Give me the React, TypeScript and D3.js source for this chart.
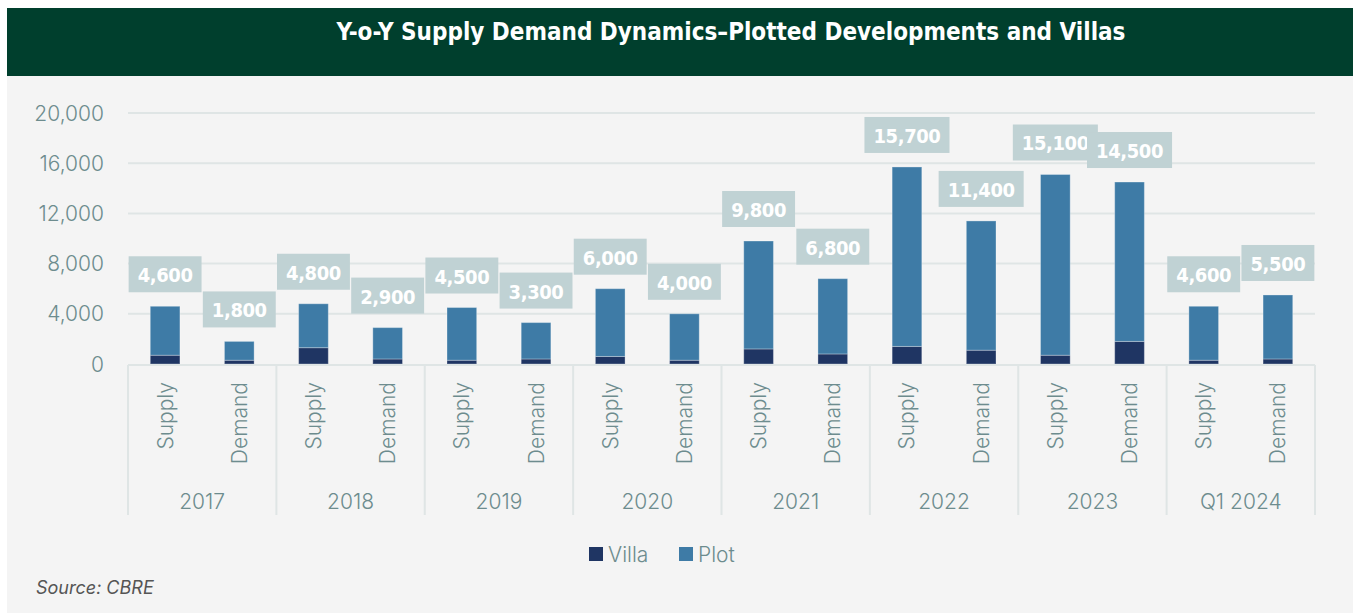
import React, { useEffect, useRef } from 'react';
import * as d3 from 'd3';

const years = ["2017", "2018", "2019", "2020", "2021", "2022", "2023", "Q1 2024"];
const kinds = ["Supply", "Demand"];

// villa / plot split per year
const supplyVilla = [700, 1300, 300, 600, 1200, 1400, 700, 300];
const supplyPlot = [3900, 3500, 4200, 5400, 8600, 14300, 14400, 4300];
const demandVilla = [300, 400, 400, 300, 800, 1100, 1800, 400];
const demandPlot = [1500, 2500, 2900, 3700, 6000, 10300, 12700, 5100];

const yTicks = [0, 4000, 8000, 12000, 16000, 20000];
const seriesKeys = ["villa", "plot"];
const seriesNames = ["Villa", "Plot"];

const W = 1353;
const H = 613;
const colors = { villa: "#1f3563", plot: "#3e7ba6" };
const axisText = "#6d8c8e";
const gridColor = "#dfe5e5";
const condensed = "'DejaVu Sans Condensed', 'Liberation Sans Narrow', 'DejaVu Sans', sans-serif";
const sans = "Inter, 'Open Sans', sans-serif";

const App = () => {
  const svgRef = useRef<SVGSVGElement | null>(null);

  useEffect(() => {
    const svg = d3.select(svgRef.current);
    svg.selectAll("*").remove();

    const rows = years.flatMap((y, i) => [
      { year: y, kind: "Supply", villa: supplyVilla[i], plot: supplyPlot[i] },
      { year: y, kind: "Demand", villa: demandVilla[i], plot: demandPlot[i] },
    ]);

    const left = 128, right = 1315, base = 364, top = 113;

    // background + header
    svg.append("rect").attr("x", 7).attr("y", 76).attr("width", W - 7).attr("height", H - 76).attr("fill", "#f4f4f4");
    svg.append("rect").attr("x", 7).attr("y", 8).attr("width", W - 7).attr("height", 68).attr("fill", "#003f2d");
    svg.append("text")
      .attr("x", 731).attr("y", 32)
      .attr("text-anchor", "middle").attr("dominant-baseline", "central")
      .attr("font-family", condensed).attr("font-weight", "bold").attr("font-size", 24)
      .attr("fill", "#fff")
      .text("Y-o-Y Supply Demand Dynamics\u2013Plotted Developments and Villas");

    const x0 = d3.scaleBand().domain(years).range([left, right]).padding(0);
    const x1 = d3.scaleBand().domain(kinds).range([0, x0.bandwidth()]).paddingInner(0.6).paddingOuter(0.3);
    const y = d3.scaleLinear().domain([0, 20000]).range([base, top]);

    const g = svg.append("g");

    // gridlines
    g.selectAll(".grid")
      .data(yTicks.filter(t => t > 0))
      .enter()
      .append("line")
      .attr("x1", left).attr("x2", right)
      .attr("y1", d => y(d)).attr("y2", d => y(d))
      .attr("stroke", gridColor).attr("stroke-width", 2);

    // y labels
    g.selectAll(".ytick")
      .data(yTicks)
      .enter()
      .append("text")
      .attr("x", 104).attr("y", d => y(d))
      .attr("text-anchor", "end").attr("dominant-baseline", "central")
      .attr("font-family", sans).attr("font-weight", 300).attr("font-size", 21).attr("fill", axisText)
      .text(d => d3.format(",")(d));

    // stacked bars
    const stacked = d3.stack<any>().keys(seriesKeys)(rows);
    const barX = (d: any) => (x0(d.year) as number) + (x1(d.kind) as number);
    stacked.forEach((layer) => {
      g.selectAll(".bar-" + layer.key)
        .data(layer)
        .enter()
        .append("rect")
        .attr("x", d => barX(d.data))
        .attr("y", d => y(d[1]))
        .attr("width", x1.bandwidth())
        .attr("height", d => y(d[0]) - y(d[1]))
        .attr("fill", colors[layer.key as "villa" | "plot"])
        .attr("stroke", "rgba(255,255,255,0.3)")
        .attr("stroke-width", 1);
    });

    // axis line + group separators
    g.append("line")
      .attr("x1", left).attr("x2", right).attr("y1", base + 1).attr("y2", base + 1)
      .attr("stroke", gridColor).attr("stroke-width", 2);
    const seps = years.map(yr => x0(yr) as number).concat([right]);
    g.selectAll(".sep")
      .data(seps)
      .enter()
      .append("line")
      .attr("x1", d => d).attr("x2", d => d)
      .attr("y1", base + 1).attr("y2", 515)
      .attr("stroke", gridColor).attr("stroke-width", 2);

    // category labels
    g.selectAll(".cat")
      .data(rows)
      .enter()
      .append("text")
      .attr("transform", d => `translate(${barX(d) + x1.bandwidth() / 2},382) rotate(-90)`)
      .attr("text-anchor", "end").attr("dominant-baseline", "central")
      .attr("font-family", sans).attr("font-weight", 300).attr("font-size", 21).attr("fill", axisText)
      .text(d => d.kind);

    g.selectAll(".year")
      .data(years)
      .enter()
      .append("text")
      .attr("x", d => (x0(d) as number) + x0.bandwidth() / 2)
      .attr("y", 501)
      .attr("text-anchor", "middle").attr("dominant-baseline", "central")
      .attr("font-family", sans).attr("font-weight", 300).attr("font-size", 21).attr("fill", axisText)
      .text(d => d);

    // value labels in boxes (box sized to the text)
    const labels = g.selectAll(".lbl")
      .data(rows)
      .enter()
      .append("g")
      .attr("transform", d => `translate(${barX(d) + x1.bandwidth() / 2},${y(d.villa + d.plot) - 14 - 18})`);
    const boxes = labels.append("rect")
      .attr("y", -18)
      .attr("height", 36)
      .attr("fill", "#c0d2d4");
    const texts = labels.append("text")
      .attr("text-anchor", "middle").attr("dominant-baseline", "central")
      .attr("y", 1)
      .attr("font-family", condensed).attr("font-weight", "bold").attr("font-size", 20)
      .attr("letter-spacing", -0.4)
      .attr("fill", "#fff")
      .text(d => d3.format(",")(d.villa + d.plot));
    texts.each(function (_, i) {
      const w = (this as SVGTextElement).getComputedTextLength() + 18;
      d3.select(boxes.nodes()[i]).attr("x", -w / 2).attr("width", w);
    });

    // legend
    const legend = svg.append("g");
    const legendX = [589, 679];
    seriesKeys.forEach((k, i) => {
      legend.append("rect")
        .attr("x", legendX[i]).attr("y", 547).attr("width", 14).attr("height", 14)
        .attr("fill", colors[k as "villa" | "plot"]);
      legend.append("text")
        .attr("x", legendX[i] + 19).attr("y", 554)
        .attr("dominant-baseline", "central")
        .attr("font-family", sans).attr("font-weight", 300).attr("font-size", 21).attr("fill", axisText)
        .text(seriesNames[i]);
    });

    svg.append("text")
      .attr("x", 36).attr("y", 587)
      .attr("dominant-baseline", "central")
      .attr("font-family", sans).attr("font-style", "italic").attr("font-size", 18)
      .attr("fill", "#555")
      .text("Source: CBRE");
  }, []);

  return (
    <svg
      ref={svgRef}
      width={W}
      height={H}
      style={{ position: "absolute", left: 0, top: 0, background: "#fff" }}
    />
  );
};

export default App;
